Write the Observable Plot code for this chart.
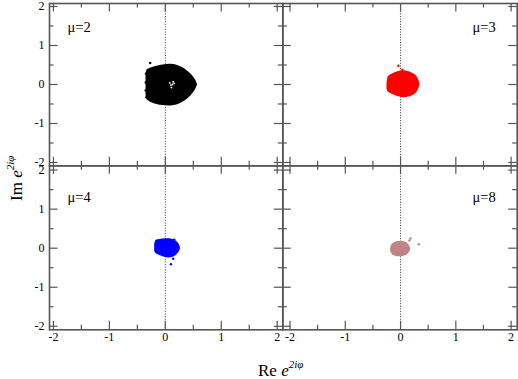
<!DOCTYPE html>
<html>
<head>
<meta charset="utf-8">
<script src="https://cdn.jsdelivr.net/npm/d3@7"></script>
<script src="https://cdn.jsdelivr.net/npm/@observablehq/plot@0.6"></script>
<style>
  html, body { margin: 0; padding: 0; background: #fff; }
  #chart { position: relative; width: 518px; height: 379px; overflow: hidden; }
  #chart svg text { font-family: "Liberation Serif", "Times New Roman", serif !important; }
</style>
</head>
<body>
<div id="chart"></div>
<script>
// ---- data ----
const majorTicks = [-2, -1, 0, 1, 2];
const minorTicks = [-1.5, -0.5, 0.5, 1.5];
const panelLabels = ["μ=2", "μ=3", "μ=4", "μ=8"];
const panelColors = ["#000000", "#ff0000", "#0000ff", "#bf8484"];

// cloud outlines: x samples with upper / lower edge
const mu2X      = [-0.345, -0.33, -0.28, -0.15, -0.04, 0.10, 0.22, 0.32, 0.40, 0.46, 0.51, 0.55, 0.575];
const mu2Top    = [ 0.20,  0.36,  0.41,  0.47,  0.50, 0.52, 0.49, 0.42, 0.34, 0.26, 0.18, 0.09, 0.00];
const mu2Bottom = [-0.20, -0.38, -0.44, -0.51, -0.54, -0.55, -0.52, -0.45, -0.37, -0.29, -0.20, -0.10, -0.01];
const mu2StrayX = [-0.27, -0.345, -0.35, -0.35, -0.34];
const mu2StrayY = [ 0.55,  0.28,  0.05, -0.15, -0.33];
const mu2HoleX  = [0.08, 0.13, 0.11, 0.16, 0.10, 0.14];
const mu2HoleY  = [0.04, 0.00, -0.08, 0.03, -0.02, 0.07];

const mu3X      = [-0.245, -0.22, -0.15, -0.05, 0.05, 0.15, 0.25, 0.30, 0.33, 0.35];
const mu3Top    = [ 0.00,  0.20,  0.27,  0.33, 0.35, 0.33, 0.26, 0.19, 0.11, 0.02];
const mu3Bottom = [-0.12, -0.20, -0.25, -0.31, -0.34, -0.32, -0.26, -0.19, -0.11, -0.02];
const mu3StrayX = [-0.04, 0.03];
const mu3StrayY = [ 0.48, 0.38];

const mu4X      = [-0.19, -0.17, -0.10, 0.00, 0.08, 0.16, 0.22, 0.25, 0.27];
const mu4Top    = [ 0.05,  0.19,  0.22, 0.24, 0.24, 0.21, 0.15, 0.09, 0.02];
const mu4Bottom = [-0.08, -0.13, -0.19, -0.24, -0.25, -0.22, -0.15, -0.09, -0.03];
const mu4StrayX = [0.16, 0.14, 0.10];
const mu4StrayY = [0.22, -0.27, -0.41];

const mu8X      = [-0.18, -0.15, -0.08, 0.00, 0.08, 0.14, 0.18];
const mu8Top    = [-0.02,  0.10,  0.16, 0.18, 0.16, 0.11, 0.01];
const mu8Bottom = [-0.08, -0.16, -0.21, -0.22, -0.20, -0.15, -0.06];
const mu8StrayX = [0.16, 0.18, 0.33];
const mu8StrayY = [0.20, 0.25, 0.10];

// ---- helpers ----
const zipOutline = (xs, hi, lo) => xs.map((x, i) => ({x, hi: hi[i], lo: lo[i]}));
const zipPts = (xs, ys) => xs.map((x, i) => ({x, y: ys[i]}));

const clouds = [
  {outline: zipOutline(mu2X, mu2Top, mu2Bottom), stray: zipPts(mu2StrayX, mu2StrayY), holes: zipPts(mu2HoleX, mu2HoleY)},
  {outline: zipOutline(mu3X, mu3Top, mu3Bottom), stray: zipPts(mu3StrayX, mu3StrayY), holes: []},
  {outline: zipOutline(mu4X, mu4Top, mu4Bottom), stray: zipPts(mu4StrayX, mu4StrayY), holes: []},
  {outline: zipOutline(mu8X, mu8Top, mu8Bottom), stray: zipPts(mu8StrayX, mu8StrayY), holes: []}
];

// layout of the four panels
const layout = [
  {left: 0,   top: 0,   width: 284, height: 167, mL: 49,  mR: 1.7, mT: 3,   mB: 1.7,  xd: [-2.07, 2.1],  yd: [-2.085, 2.077], yAxis: true,  xAxis: false, anchor: "top-left",  dx: 18,    dy: 18.5},
  {left: 280, top: 0,   width: 238, height: 167, mL: 2.3, mR: 1.3, mT: 3,   mB: 1.7,  xd: [-2.13, 2.11], yd: [-2.085, 2.077], yAxis: false, xAxis: false, anchor: "top-right", dx: -21.5, dy: 18.5},
  {left: 0,   top: 163, width: 284, height: 216, mL: 49,  mR: 1.7, mT: 2.3, mB: 49.7, xd: [-2.07, 2.1],  yd: [-2.09, 2.11],   yAxis: true,  xAxis: true,  anchor: "top-left",  dx: 18,    dy: 25.5},
  {left: 280, top: 163, width: 238, height: 216, mL: 2.3, mR: 1.3, mT: 2.3, mB: 49.7, xd: [-2.13, 2.11], yd: [-2.09, 2.11],   yAxis: false, xAxis: true,  anchor: "top-right", dx: -21.5, dy: 25.5}
];

const AX = "#555";
const MAJ = 8.5, MIN = 4.5;
const SERIF = "Liberation Serif";
const chart = document.getElementById("chart");

layout.forEach((p, i) => {
  const c = clouds[i];
  const color = panelColors[i];
  const kx = (p.width - p.mL - p.mR) / (p.xd[1] - p.xd[0]);
  const ky = (p.height - p.mT - p.mB) / (p.yd[1] - p.yd[0]);
  const [x0, x1] = p.xd, [y0, y1] = p.yd;
  const tickMarks = [];
  for (const [ts, L] of [[majorTicks, MAJ], [minorTicks, MIN]]) {
    tickMarks.push(
      Plot.ruleX(ts, {x: d => d, y1: y0, y2: y0 + L / ky, stroke: AX, strokeWidth: 1.2}),
      Plot.ruleX(ts, {x: d => d, y1: y1, y2: y1 - L / ky, stroke: AX, strokeWidth: 1.2}),
      Plot.ruleY(ts, {y: d => d, x1: x0, x2: x0 + L / kx, stroke: AX, strokeWidth: 1.2}),
      Plot.ruleY(ts, {y: d => d, x1: x1, x2: x1 - L / kx, stroke: AX, strokeWidth: 1.2})
    );
  }
  const svg = Plot.plot({
    width: p.width, height: p.height,
    marginLeft: p.mL, marginRight: p.mR, marginTop: p.mT, marginBottom: p.mB,
    style: {background: "transparent", fontFamily: SERIF, fontSize: "12px", color: "#000", overflow: "visible"},
    x: {domain: p.xd, axis: null},
    y: {domain: p.yd, axis: null},
    marks: [
      ...(p.yAxis ? [Plot.axisY(majorTicks, {tickSize: 0, tickPadding: 5, label: null, tickFormat: d => String(d), fontSize: 12, fontFamily: SERIF})] : []),
      ...(p.xAxis ? [Plot.axisX(majorTicks, {tickSize: 0, tickPadding: 3, label: null, tickFormat: d => String(d), fontSize: 12, fontFamily: SERIF})] : []),
      Plot.ruleX([0], {x: d => d, stroke: "#333", strokeWidth: 1, strokeDasharray: "1,1.6"}),
      Plot.areaY(c.outline, {x: "x", y1: "lo", y2: "hi", fill: color, curve: "catmull-rom"}),
      Plot.dot(c.stray, {x: "x", y: "y", r: 1.2, fill: color, stroke: "none"}),
      Plot.dot(c.holes, {x: "x", y: "y", r: 0.9, fill: "#fff", stroke: "none"}),
      ...tickMarks,
      Plot.frame({stroke: AX, strokeWidth: 1.6}),
      Plot.text([panelLabels[i]], {text: d => d, frameAnchor: p.anchor, dx: p.dx, dy: p.dy, fontSize: 14.5, fontFamily: SERIF, fill: "#000"})
    ]
  });
  svg.style.position = "absolute";
  svg.style.left = p.left + "px";
  svg.style.top = p.top + "px";
  chart.appendChild(svg);
});

// axis titles
const overlay = d3.create("svg")
  .attr("width", 518).attr("height", 379)
  .style("position", "absolute").style("left", "0px").style("top", "0px")
  .style("font-family", SERIF);

const bottomTitle = overlay.append("text").attr("x", 258).attr("y", 376).attr("font-size", 17).attr("fill", "#000");
bottomTitle.append("tspan").text("Re ");
bottomTitle.append("tspan").attr("font-style", "italic").text("e");
bottomTitle.append("tspan").attr("font-style", "italic").attr("font-size", 11).attr("dy", -8).text("2iφ");

const leftTitle = overlay.append("text").attr("transform", "translate(22,201) rotate(-90)").attr("font-size", 17).attr("fill", "#000");
leftTitle.append("tspan").text("Im ");
leftTitle.append("tspan").attr("font-style", "italic").text("e");
leftTitle.append("tspan").attr("font-style", "italic").attr("font-size", 11).attr("dy", -8).text("2iφ");

chart.appendChild(overlay.node());
</script>
</body>
</html>
